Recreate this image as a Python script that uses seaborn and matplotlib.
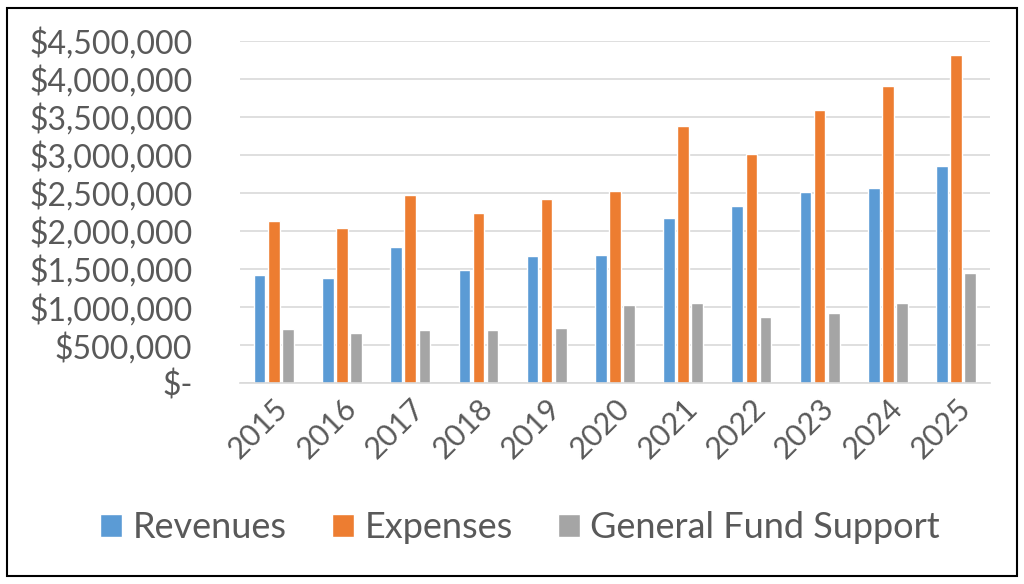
import matplotlib.pyplot as plt
import numpy as np
import pandas as pd
import seaborn as sns
from matplotlib.patches import Rectangle
from matplotlib.ticker import FuncFormatter

years = ['2015', '2016', '2017', '2018', '2019', '2020',
         '2021', '2022', '2023', '2024', '2025']
revenues = [1420000, 1376000, 1788000, 1490000, 1665000, 1687000,
            2165000, 2331000, 2507000, 2572000, 2853000]
expenses = [2134000, 2033000, 2471000, 2239000, 2415000, 2524000,
            3387000, 3006000, 3589000, 3904000, 4312000]
general_fund = [710000, 657000, 697000, 697000, 723000, 1025000,
                1047000, 872000, 925000, 1052000, 1446000]

data = pd.DataFrame({'Year': years,
                     'Revenues': revenues,
                     'Expenses': expenses,
                     'General Fund Support': general_fund})
data = data.melt(id_vars='Year', var_name='Series', value_name='Amount')

sns.set_style('white')
plt.rcParams['font.family'] = ['Lato', 'DejaVu Sans']
text_color = '#595959'

fig = plt.figure(figsize=(10.24, 5.84), dpi=100)
ax = fig.add_axes([0.234, 0.344, 0.733, 0.586])

sns.barplot(data=data, x='Year', y='Amount', hue='Series', ax=ax,
            palette=['#5B9BD5', '#ED7D31', '#A5A5A5'],
            width=0.62, gap=0.18, saturation=1)

ax.set_ylim(0, 4500000)
ax.set_yticks(np.arange(0, 4500001, 500000))
ax.yaxis.set_major_formatter(FuncFormatter(
    lambda v, p: '$-' if v == 0 else '${:,.0f}'.format(v)))
ax.grid(axis='y', color='#d9d9d9', linewidth=1.2)
ax.set_axisbelow(True)
for s in ['top', 'right', 'left']:
    ax.spines[s].set_visible(False)
ax.spines['bottom'].set_color('#d9d9d9')
ax.spines['bottom'].set_linewidth(1.2)
ax.tick_params(length=0, labelcolor=text_color)
ax.tick_params(axis='y', pad=34, labelsize=23)
ax.tick_params(axis='x', pad=8, labelsize=22)
ax.set_xlabel('')
ax.set_ylabel('')
plt.setp(ax.get_xticklabels(), rotation=45, ha='right',
         rotation_mode='anchor')

handles, labels = ax.get_legend_handles_labels()
ax.get_legend().remove()
fig.legend(handles, labels, loc='center', bbox_to_anchor=(0.508, 0.096),
           ncol=3, frameon=False, fontsize=26, handlelength=0.6,
           handleheight=0.6, handletextpad=0.3, columnspacing=1.25,
           labelcolor=text_color)

fig.patches.append(Rectangle((0.007, 0.014), 0.986, 0.972,
                             transform=fig.transFigure, fill=False,
                             edgecolor='black', linewidth=1.5))

fig.savefig('out.png', dpi=100)
